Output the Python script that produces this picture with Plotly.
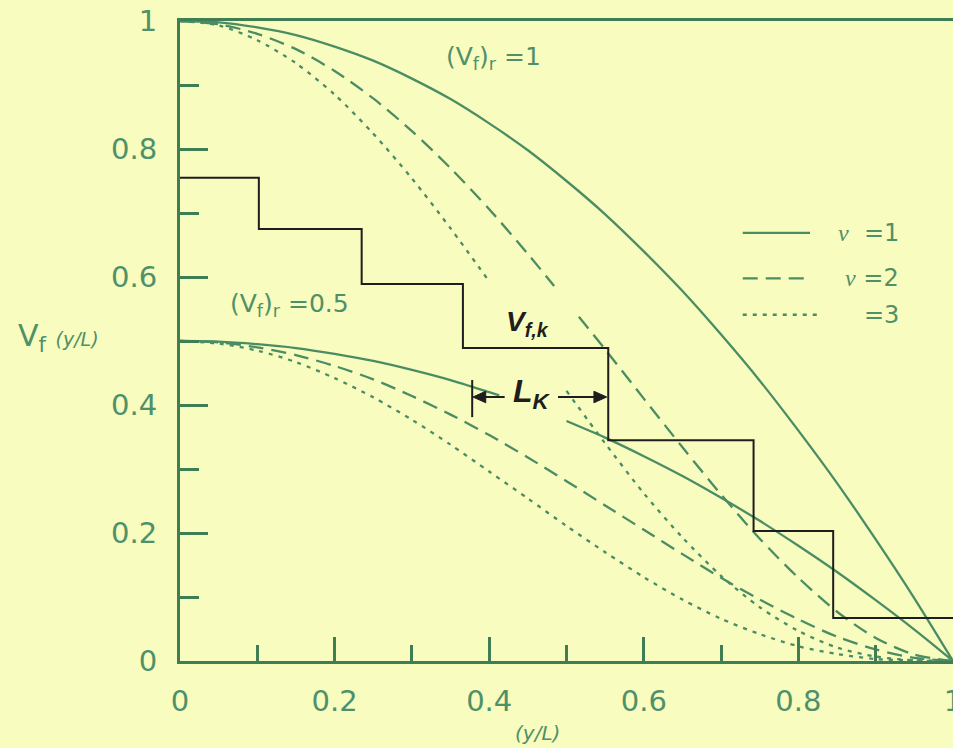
import plotly.graph_objects as go

# Position along the plate, y/L
grid = [0.0, 0.05, 0.1, 0.15, 0.2, 0.25, 0.3, 0.35, 0.4, 0.45, 0.5,
        0.55, 0.6, 0.65, 0.7, 0.75, 0.8, 0.85, 0.9, 0.95, 1.0]

# Volume-fraction profiles for (Vf)r = 1
top_nu1 = [1.0, 0.998, 0.99, 0.978, 0.96, 0.938, 0.91, 0.878, 0.84, 0.798, 0.75,
           0.698, 0.64, 0.578, 0.51, 0.438, 0.36, 0.278, 0.19, 0.098, 0.0]
top_nu2_x = [0.0, 0.05, 0.1, 0.15, 0.2, 0.25, 0.3, 0.35, 0.4, 0.45, 0.484, None,
             0.516, 0.55, 0.6, 0.65, 0.7, 0.75, 0.8, 0.85, 0.9, 0.95, 1.0]
top_nu2 = [1.0, 0.995, 0.98, 0.956, 0.922, 0.879, 0.828, 0.77, 0.706, 0.636, 0.586, None,
           0.538, 0.487, 0.41, 0.334, 0.26, 0.191, 0.13, 0.077, 0.036, 0.01, 0.0]
top_nu3_x = [0.0, 0.05, 0.1, 0.15, 0.2, 0.25, 0.3, 0.35, 0.4, None,
             0.5, 0.55, 0.6, 0.65, 0.7, 0.75, 0.8, 0.85, 0.9, 0.95, 1.0]
top_nu3 = [1.0, 0.993, 0.97, 0.934, 0.885, 0.824, 0.754, 0.676, 0.593, None,
           0.422, 0.34, 0.262, 0.193, 0.133, 0.084, 0.047, 0.021, 0.007, 0.001, 0.0]

# Volume-fraction profiles for (Vf)r = 0.5
bot_nu1_x = [0.0, 0.05, 0.1, 0.15, 0.2, 0.25, 0.3, 0.35, 0.4, 0.413, None,
             0.5, 0.55, 0.6, 0.65, 0.7, 0.75, 0.8, 0.85, 0.9, 0.95, 1.0]
bot_nu1 = [0.5, 0.499, 0.495, 0.489, 0.48, 0.469, 0.455, 0.439, 0.42, 0.415, None,
           0.375, 0.349, 0.32, 0.289, 0.255, 0.219, 0.18, 0.139, 0.095, 0.049, 0.0]
bot_nu2 = [0.5, 0.498, 0.49, 0.478, 0.461, 0.44, 0.414, 0.385, 0.353, 0.318, 0.281,
           0.243, 0.205, 0.167, 0.13, 0.096, 0.065, 0.038, 0.018, 0.005, 0.0]
bot_nu3 = [0.5, 0.496, 0.485, 0.467, 0.442, 0.412, 0.377, 0.338, 0.296, 0.254, 0.211,
           0.17, 0.131, 0.096, 0.066, 0.042, 0.023, 0.011, 0.003, 0.001, 0.0]

# Stepwise (layered) approximation: layer edges and layer fractions Vf,k
step_edges = [0.0, 0.102, 0.235, 0.366, 0.554, 0.742, 0.845, 1.0]
step_levels = [0.755, 0.675, 0.589, 0.489, 0.345, 0.203, 0.067]

tick_vals = [0, 0.2, 0.4, 0.6, 0.8, 1.0]
tick_text = ["0", "0.2", "0.4", "0.6", "0.8", "1"]

BG = "#F8FCBE"
AXIS = "#3F7D55"
CURVE = "#4A8C64"
TEXT = "#4F9069"
INK = "#1E1E1E"
FONT = "DejaVu Sans, Liberation Sans, Arial, sans-serif"
NU = "<i><span style='font-family:Liberation Serif, serif'>ν</span></i>"

DASH = "15px,8px"
DOT = "4px,6px"

fig = go.Figure()

def curve(x, y, dash):
    fig.add_trace(go.Scatter(
        x=x, y=y, mode="lines", connectgaps=False, showlegend=False,
        line=dict(color=CURVE, width=2.3, dash=dash, shape="spline", smoothing=0.8),
        hoverinfo="skip"))

curve(grid, top_nu1, "solid")
curve(top_nu2_x, top_nu2, DASH)
curve(top_nu3_x, top_nu3, DOT)
curve(bot_nu1_x, bot_nu1, "solid")
curve(grid, bot_nu2, DASH)
curve(grid, bot_nu3, DOT)

fig.add_trace(go.Scatter(
    x=step_edges, y=step_levels + [step_levels[-1]], mode="lines",
    line=dict(color=INK, width=2, shape="hv"), showlegend=False, hoverinfo="skip"))

shapes = []
annotations = []

# Key for the exponent nu
key_rows = [(0.669, "solid", 0.815, NU + "&nbsp;&nbsp;=1"),
            (0.598, DASH, 0.815, NU + " =2"),
            (0.541, DOT, 0.825, "=3")]
for yk, dash, xend, label in key_rows:
    shapes.append(dict(type="line", xref="x", yref="y", x0=0.728, x1=xend, y0=yk, y1=yk,
                       line=dict(color=CURVE, width=2.3, dash=dash)))
    annotations.append(dict(xref="x", yref="y", x=0.933, y=yk, text=label, showarrow=False,
                            xanchor="right", yanchor="middle",
                            font=dict(family=FONT, size=24, color=TEXT)))

# Marker for layer thickness L_K: end bar and two arrows
shapes.append(dict(type="line", xref="x", yref="y", x0=0.378, x1=0.378, y0=0.381, y1=0.439,
                   line=dict(color=INK, width=2)))
shapes.append(dict(type="line", xref="x", yref="y", x0=0.390, x1=0.420, y0=0.4125, y1=0.4125,
                   line=dict(color=INK, width=2)))
shapes.append(dict(type="path", xref="x", yref="y",
                   path="M 0.379 0.4125 L 0.3955 0.4215 L 0.3955 0.4035 Z",
                   fillcolor=INK, line=dict(color=INK, width=1)))
shapes.append(dict(type="line", xref="x", yref="y", x0=0.489, x1=0.540, y0=0.4125, y1=0.4125,
                   line=dict(color=INK, width=2)))
shapes.append(dict(type="path", xref="x", yref="y",
                   path="M 0.552 0.4125 L 0.5355 0.4215 L 0.5355 0.4035 Z",
                   fillcolor=INK, line=dict(color=INK, width=1)))
annotations.append(dict(xref="x", yref="y", x=0.455, y=0.418,
                        text="<b><i>L<sub>K</sub></i></b>", showarrow=False,
                        font=dict(family="Liberation Sans, Arial, sans-serif", size=32, color=INK)))
annotations.append(dict(xref="x", yref="y", x=0.450, y=0.527,
                        text="<b><i>V<sub>f,k</sub></i></b>", showarrow=False,
                        font=dict(family="Liberation Sans, Arial, sans-serif", size=28, color=INK)))

# Curve-family labels
annotations.append(dict(xref="x", yref="y", x=0.342, y=0.942,
                        text="(V<sub>f</sub>)<sub>r</sub> =1", showarrow=False,
                        xanchor="left", yanchor="middle",
                        font=dict(family=FONT, size=25, color=TEXT)))
annotations.append(dict(xref="x", yref="y", x=0.062, y=0.557,
                        text="(V<sub>f</sub>)<sub>r</sub> =0.5", showarrow=False,
                        xanchor="left", yanchor="middle",
                        font=dict(family=FONT, size=25, color=TEXT)))

# Axis titles
annotations.append(dict(xref="paper", yref="y", x=-0.212, y=0.505,
                        text="V<sub>f</sub> <i><span style='font-size:19px'>(y/L)</span></i>",
                        showarrow=False, xanchor="left", yanchor="middle",
                        font=dict(family=FONT, size=30, color=TEXT)))
annotations.append(dict(xref="x", yref="paper", x=0.462, y=-0.112,
                        text="<i>(y/L)</i>", showarrow=False, xanchor="center", yanchor="middle",
                        font=dict(family=FONT, size=20, color=TEXT)))

fig.update_layout(
    width=953, height=748,
    margin=dict(l=180, r=0, t=21, b=87, autoexpand=False),
    paper_bgcolor=BG, plot_bgcolor=BG,
    shapes=shapes, annotations=annotations,
    showlegend=False,
)

fig.update_xaxes(
    range=[0, 1], tickmode="array", tickvals=tick_vals, ticktext=tick_text,
    ticks="inside", ticklen=24, tickwidth=2.5, tickcolor=AXIS,
    minor=dict(tickmode="array", tickvals=[0.1, 0.3, 0.5, 0.7, 0.9], ticks="inside",
               ticklen=16, tickwidth=2.5, tickcolor=AXIS),
    showline=True, linecolor=AXIS, linewidth=3, mirror=True, automargin=False,
    showgrid=False, zeroline=False, ticklabelstandoff=12, ticklabeloverflow="allow",
    tickfont=dict(family=FONT, size=29, color=TEXT),
)
fig.update_yaxes(
    range=[0, 1], tickmode="array", tickvals=tick_vals, ticktext=tick_text,
    ticks="inside", ticklen=28, tickwidth=2.5, tickcolor=AXIS,
    minor=dict(tickmode="array", tickvals=[0.1, 0.3, 0.5, 0.7, 0.9], ticks="inside",
               ticklen=19, tickwidth=2.5, tickcolor=AXIS),
    showline=True, linecolor=AXIS, linewidth=3, automargin=False,
    showgrid=False, zeroline=False, ticklabelstandoff=14,
    tickfont=dict(family=FONT, size=29, color=TEXT),
)

fig.write_html("out.html")
